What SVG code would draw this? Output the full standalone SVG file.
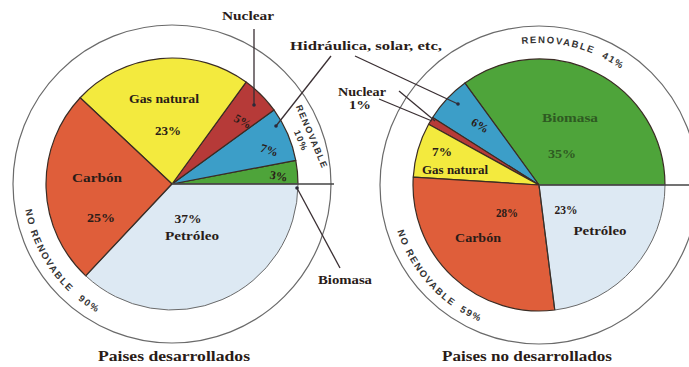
<svg xmlns="http://www.w3.org/2000/svg" width="689" height="367" viewBox="0 0 689 367">
<defs>
<style>
.sl{stroke:#3a2c24;stroke-width:1.2;stroke-linejoin:round}
.ring{fill:none;stroke:#6a6a6a;stroke-width:1.2}
.ax{stroke:#444;stroke-width:1.3}
.ld{stroke:#3a2f33;stroke-width:1.3;fill:none}
.dot{fill:#2a2a3a}
.t{font-family:"Liberation Serif","Times New Roman",serif;font-weight:bold;fill:#2a1c18;text-anchor:middle}
.s11{font-size:12px}
.s12{font-size:13px}
.s14{font-size:15.5px}
.c{font-family:"Liberation Sans",Arial,sans-serif;font-weight:bold;font-size:9px;fill:#333;letter-spacing:1.4px}
.c2{font-size:9.5px;letter-spacing:1.6px}
.g{fill:#2e5a22}
.carbon{fill:#df5e3a}
.gas{fill:#f3ea3e}
.nuc{fill:#b63a38}
.hid{fill:#3c9ec8}
.bio{fill:#4ea43a}
.pet{fill:#dde9f3}
</style>
<path id="arcL" d="M25.26,209.87 A149,149 0 0 0 146.13,330.74"/>
<path id="arcR" d="M397.29,231.04 A149,149 0 0 0 526.01,333.43"/>
<path id="arcRT" d="M521.69,44.06 A142,142 0 0 1 647.78,93.72"/>
</defs>
<rect width="689" height="367" fill="#ffffff"/>

<g id="pie-desarrollados">
<circle class="ring" cx="172" cy="184" r="159"/>
<path class="sl bio" d="M172,184 L298,184 A126,126 0 0 0 295.77,160.39 Z"/>
<path class="sl hid" d="M172,184 L295.77,160.39 A126,126 0 0 0 273.94,109.94 Z"/>
<path class="sl nuc" d="M172,184 L273.94,109.94 A126,126 0 0 0 246.06,82.06 Z"/>
<path class="sl gas" d="M172,184 L246.06,82.06 A126,126 0 0 0 80.15,97.75 Z"/>
<path class="sl carbon" d="M172,184 L80.15,97.75 A126,126 0 0 0 85.75,275.85 Z"/>
<path class="pet" d="M172,184 L85.75,275.85 A126,126 0 0 0 298,184 Z" stroke="#6a6a6a" stroke-width="1"/>
<line class="sl" x1="172" y1="184" x2="85.75" y2="275.85"/>
<line class="ax" x1="172" y1="184" x2="334" y2="184"/>
<text class="t s11" x="164" y="103" textLength="70" lengthAdjust="spacingAndGlyphs">Gas natural</text>
<text class="t s11" x="168" y="135" textLength="26" lengthAdjust="spacingAndGlyphs">23%</text>
<text class="t s11" x="97" y="182" textLength="50" lengthAdjust="spacingAndGlyphs">Carbón</text>
<text class="t s11" x="101" y="222" textLength="28" lengthAdjust="spacingAndGlyphs">25%</text>
<text class="t s11" x="188" y="223" textLength="27" lengthAdjust="spacingAndGlyphs">37%</text>
<text class="t s11" x="192" y="240" textLength="54" lengthAdjust="spacingAndGlyphs">Petróleo</text>
<text class="t s11" transform="translate(241,125) rotate(28)">5%</text>
<text class="t s11" transform="translate(268,154) rotate(18)">7%</text>
<text class="t s11" transform="translate(278,180) rotate(10)">3%</text>
<text class="c" text-anchor="middle" transform="translate(309,138) rotate(67)">RENOVABLE</text>
<text class="c" text-anchor="middle" transform="translate(298,142) rotate(67)">10%</text>
<text class="c c2"><textPath href="#arcL">NO</textPath></text>
<text class="c c2"><textPath href="#arcL" startOffset="22">RENOVABLE</textPath></text>
<text class="c c2"><textPath href="#arcL" startOffset="106">90%</textPath></text>
<text class="t s14" x="174" y="361" textLength="152" lengthAdjust="spacingAndGlyphs">Paises desarrollados</text>
</g>

<g id="pie-no-desarrollados">
<circle class="ring" cx="539" cy="185" r="159"/>
<path class="sl bio" d="M539,185 L665,185 A126,126 0 0 0 464.94,83.06 Z"/>
<path class="sl hid" d="M539,185 L464.94,83.06 A126,126 0 0 0 432.61,117.49 Z"/>
<path class="sl nuc" d="M539,185 L432.61,117.49 A126,126 0 0 0 428.59,124.30 Z"/>
<path class="sl gas" d="M539,185 L428.59,124.30 A126,126 0 0 0 413.25,177.09 Z"/>
<path class="sl carbon" d="M539,185 L413.25,177.09 A126,126 0 0 0 554.79,310.01 Z"/>
<path class="pet" d="M539,185 L554.79,310.01 A126,126 0 0 0 665,185 Z" stroke="#6a6a6a" stroke-width="1"/>
<line class="sl" x1="539" y1="185" x2="554.79" y2="310.01"/>
<line class="ax" x1="539" y1="185" x2="689" y2="185"/>
<text class="t s11 g" x="570" y="122" textLength="56" lengthAdjust="spacingAndGlyphs">Biomasa</text>
<text class="t s11 g" x="562" y="158" textLength="28" lengthAdjust="spacingAndGlyphs">35%</text>
<text class="t s11" transform="translate(478,129) rotate(30)">6%</text>
<text class="t s11" x="442" y="156" textLength="20" lengthAdjust="spacingAndGlyphs">7%</text>
<text class="t s11" x="455" y="174" textLength="66" lengthAdjust="spacingAndGlyphs">Gas natural</text>
<text class="t s11" x="507" y="217" textLength="22" lengthAdjust="spacingAndGlyphs">28%</text>
<text class="t s11" x="478" y="242" textLength="46" lengthAdjust="spacingAndGlyphs">Carbón</text>
<text class="t s11" x="566" y="214" textLength="23" lengthAdjust="spacingAndGlyphs">23%</text>
<text class="t s11" x="600" y="235" textLength="53" lengthAdjust="spacingAndGlyphs">Petróleo</text>
<text class="c c2"><textPath href="#arcRT">RENOVABLE</textPath></text>
<text class="c c2"><textPath href="#arcRT" startOffset="82">41%</textPath></text>
<text class="c c2"><textPath href="#arcR">NO</textPath></text>
<text class="c c2"><textPath href="#arcR" startOffset="22">RENOVABLE</textPath></text>
<text class="c c2"><textPath href="#arcR" startOffset="103">59%</textPath></text>
<text class="t s14" x="527" y="361" textLength="170" lengthAdjust="spacingAndGlyphs">Paises no desarrollados</text>
</g>

<g id="labels">
<text class="t s11" x="248" y="20" textLength="52" lengthAdjust="spacingAndGlyphs">Nuclear</text>
<text class="t s12" x="366" y="50" textLength="152" lengthAdjust="spacingAndGlyphs">Hidráulica, solar, etc,</text>
<text class="t s11" x="362" y="96" textLength="48" lengthAdjust="spacingAndGlyphs">Nuclear</text>
<text class="t s11" x="360" y="109" textLength="22" lengthAdjust="spacingAndGlyphs">1%</text>
<text class="t s11" x="345" y="284" textLength="54" lengthAdjust="spacingAndGlyphs">Biomasa</text>
</g>

<g id="connectors">
<line class="ld" x1="254" y1="29" x2="254" y2="105"/>
<circle class="dot" cx="254" cy="105" r="1.8"/>
<line class="ld" x1="331" y1="56" x2="276" y2="126"/>
<circle class="dot" cx="276" cy="126" r="1.8"/>
<line class="ld" x1="355" y1="56" x2="458" y2="104"/>
<circle class="dot" cx="458" cy="104" r="1.8"/>
<line class="ld" x1="379" y1="99" x2="432" y2="121"/>
<line class="ld" x1="399" y1="91" x2="435" y2="121"/>
<line class="ld" x1="297" y1="188" x2="340" y2="268"/>
<circle class="dot" cx="297" cy="188" r="1.8"/>
</g>
</svg>
